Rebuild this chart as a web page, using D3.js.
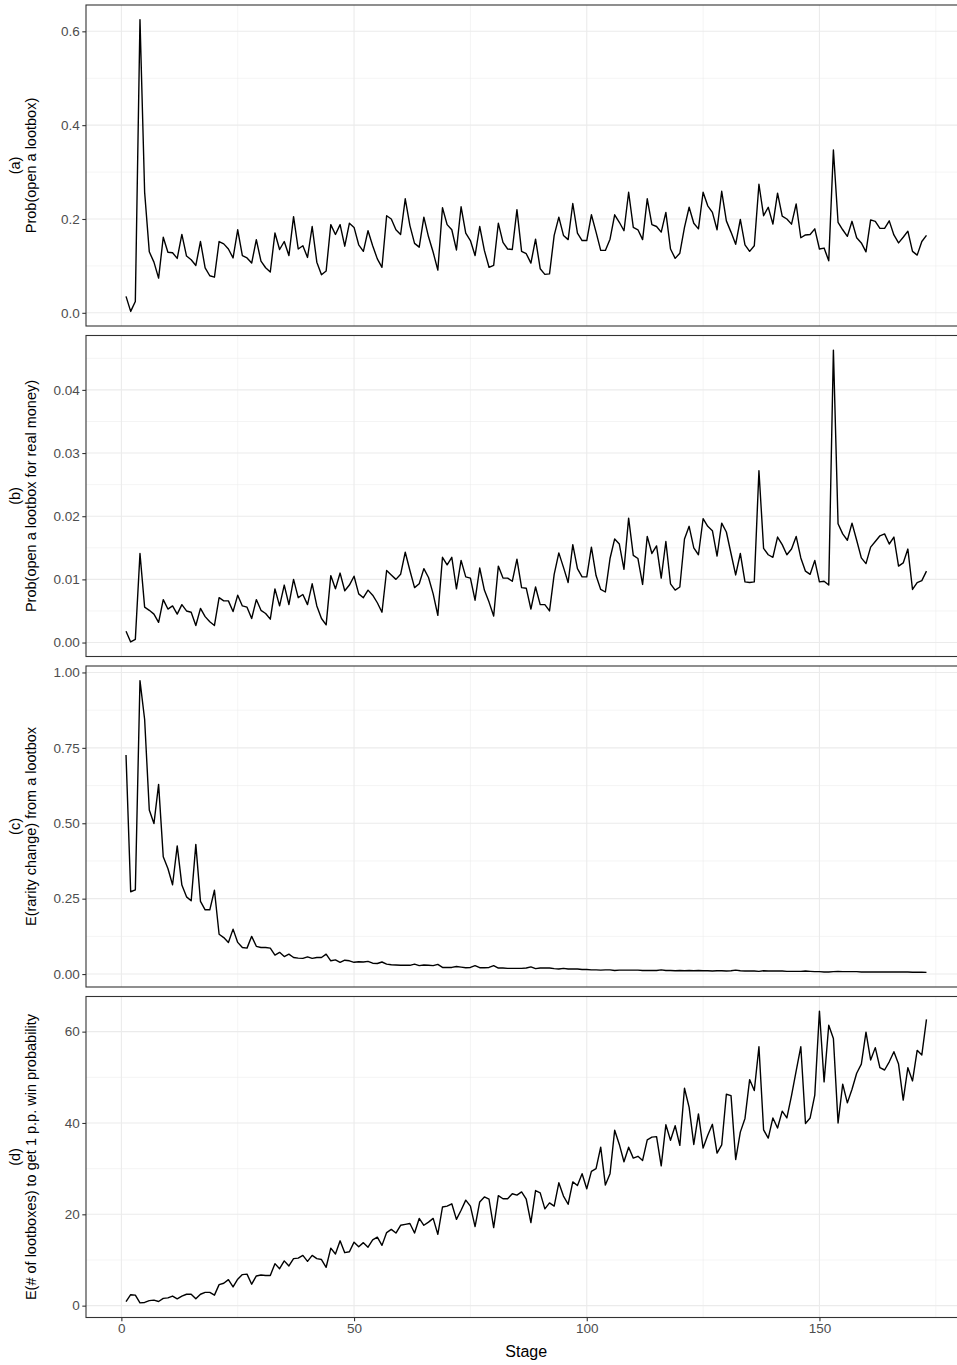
<!DOCTYPE html>
<html>
<head>
<meta charset="utf-8">
<script src="https://cdn.jsdelivr.net/npm/d3@7/dist/d3.min.js"></script>
<style>
  html, body { margin: 0; padding: 0; background: #ffffff; }
  svg { display: block; font-family: "Liberation Sans", Arial, Helvetica, sans-serif; }
</style>
</head>
<body>
<svg id="chart" width="957" height="1365"></svg>
<script>
// Stage numbers 1..173
const stages = d3.range(1, 174);

// (a) probability of opening a lootbox per stage
const probOpen = [
  0.035, 0.003, 0.024, 0.625, 0.257, 0.130, 0.108, 0.074, 0.161, 0.129,
  0.128, 0.116, 0.167, 0.121, 0.113, 0.101, 0.152, 0.096, 0.079, 0.076,
  0.152, 0.147, 0.136, 0.117, 0.177, 0.122, 0.117, 0.106, 0.156, 0.110,
  0.096, 0.087, 0.170, 0.135, 0.152, 0.122, 0.205, 0.136, 0.143, 0.118,
  0.184, 0.108, 0.081, 0.089, 0.188, 0.167, 0.188, 0.142, 0.191, 0.182,
  0.145, 0.131, 0.175, 0.143, 0.115, 0.097, 0.207, 0.200, 0.177, 0.167,
  0.243, 0.186, 0.148, 0.140, 0.204, 0.162, 0.129, 0.091, 0.224, 0.188,
  0.177, 0.134, 0.226, 0.170, 0.154, 0.122, 0.184, 0.133, 0.097, 0.101,
  0.191, 0.150, 0.136, 0.135, 0.220, 0.131, 0.126, 0.106, 0.157, 0.094,
  0.082, 0.083, 0.165, 0.204, 0.165, 0.156, 0.233, 0.170, 0.154, 0.154,
  0.209, 0.172, 0.133, 0.133, 0.157, 0.209, 0.193, 0.175, 0.257, 0.182,
  0.177, 0.156, 0.243, 0.188, 0.184, 0.172, 0.214, 0.136, 0.116, 0.127,
  0.182, 0.225, 0.191, 0.179, 0.257, 0.228, 0.214, 0.177, 0.259, 0.196,
  0.172, 0.146, 0.199, 0.145, 0.131, 0.143, 0.274, 0.207, 0.225, 0.189,
  0.255, 0.206, 0.200, 0.189, 0.232, 0.160, 0.166, 0.167, 0.179, 0.136,
  0.138, 0.111, 0.347, 0.193, 0.177, 0.163, 0.195, 0.160, 0.149, 0.130,
  0.198, 0.195, 0.180, 0.180, 0.196, 0.166, 0.149, 0.161, 0.174, 0.131,
  0.123, 0.152, 0.165
];

// (b) probability of opening a lootbox for real money
const probOpenPaid = [
  0.0018, 0.0001, 0.0005, 0.0141, 0.0056, 0.0051, 0.0045, 0.0032, 0.0068, 0.0053,
  0.0058, 0.0045, 0.0060, 0.0050, 0.0048, 0.0027, 0.0054, 0.0041, 0.0033, 0.0027,
  0.0071, 0.0066, 0.0066, 0.0049, 0.0075, 0.0058, 0.0056, 0.0038, 0.0068, 0.0051,
  0.0046, 0.0037, 0.0085, 0.0058, 0.0091, 0.0060, 0.0100, 0.0071, 0.0076, 0.0060,
  0.0093, 0.0058, 0.0038, 0.0028, 0.0106, 0.0085, 0.0110, 0.0082, 0.0091, 0.0105,
  0.0077, 0.0071, 0.0083, 0.0075, 0.0063, 0.0048, 0.0114, 0.0107, 0.0100, 0.0108,
  0.0143, 0.0114, 0.0087, 0.0093, 0.0117, 0.0103, 0.0077, 0.0043, 0.0135, 0.0123,
  0.0135, 0.0085, 0.0130, 0.0104, 0.0102, 0.0067, 0.0118, 0.0083, 0.0064, 0.0042,
  0.0121, 0.0102, 0.0102, 0.0097, 0.0132, 0.0087, 0.0086, 0.0053, 0.0088, 0.0060,
  0.0060, 0.0050, 0.0108, 0.0142, 0.0119, 0.0095, 0.0155, 0.0117, 0.0104, 0.0104,
  0.0151, 0.0106, 0.0084, 0.0080, 0.0133, 0.0164, 0.0156, 0.0116, 0.0197, 0.0138,
  0.0133, 0.0092, 0.0168, 0.0141, 0.0153, 0.0102, 0.0160, 0.0093, 0.0083, 0.0088,
  0.0164, 0.0184, 0.0150, 0.0139, 0.0196, 0.0184, 0.0177, 0.0137, 0.0189, 0.0175,
  0.0141, 0.0107, 0.0141, 0.0096, 0.0095, 0.0096, 0.0272, 0.0149, 0.0139, 0.0135,
  0.0167, 0.0155, 0.0139, 0.0148, 0.0168, 0.0134, 0.0113, 0.0108, 0.0130, 0.0096,
  0.0097, 0.0091, 0.0463, 0.0188, 0.0172, 0.0162, 0.0189, 0.0162, 0.0134, 0.0125,
  0.0151, 0.0160, 0.0169, 0.0172, 0.0156, 0.0167, 0.0121, 0.0126, 0.0148, 0.0084,
  0.0095, 0.0098, 0.0113
];

// (c) expected rarity change from a lootbox
const rarityChange = [
  0.726, 0.273, 0.279, 0.973, 0.844, 0.544, 0.499, 0.629, 0.389, 0.350,
  0.296, 0.425, 0.295, 0.256, 0.243, 0.430, 0.241, 0.213, 0.213, 0.278,
  0.132, 0.121, 0.105, 0.149, 0.105, 0.088, 0.086, 0.125, 0.092, 0.088,
  0.088, 0.086, 0.063, 0.072, 0.058, 0.066, 0.055, 0.053, 0.052, 0.057,
  0.052, 0.055, 0.055, 0.066, 0.044, 0.047, 0.039, 0.046, 0.044, 0.039,
  0.041, 0.040, 0.042, 0.036, 0.035, 0.040, 0.033, 0.031, 0.030, 0.029,
  0.029, 0.029, 0.033, 0.028, 0.030, 0.029, 0.028, 0.032, 0.022, 0.022,
  0.022, 0.025, 0.023, 0.021, 0.022, 0.028, 0.021, 0.021, 0.022, 0.028,
  0.020, 0.020, 0.019, 0.019, 0.019, 0.019, 0.020, 0.024, 0.018, 0.020,
  0.020, 0.020, 0.018, 0.017, 0.019, 0.017, 0.017, 0.017, 0.015, 0.015,
  0.014, 0.014, 0.013, 0.014, 0.014, 0.012, 0.013, 0.013, 0.013, 0.013,
  0.013, 0.012, 0.012, 0.012, 0.012, 0.014, 0.012, 0.012, 0.011, 0.012,
  0.011, 0.012, 0.011, 0.012, 0.011, 0.011, 0.010, 0.011, 0.011, 0.010,
  0.011, 0.013, 0.011, 0.010, 0.010, 0.010, 0.009, 0.011, 0.010, 0.010,
  0.010, 0.010, 0.009, 0.009, 0.009, 0.009, 0.010, 0.009, 0.008, 0.008,
  0.007, 0.007, 0.008, 0.009, 0.008, 0.008, 0.008, 0.008, 0.007, 0.007,
  0.007, 0.007, 0.007, 0.007, 0.007, 0.007, 0.007, 0.007, 0.007, 0.006,
  0.006, 0.006, 0.0055
];

// (d) expected number of lootboxes to gain 1 p.p. of win probability
const boxesPerPoint = [
  0.9, 2.4, 2.3, 0.6, 0.7, 1.1, 1.2, 0.9, 1.6, 1.7,
  2.1, 1.5, 2.1, 2.5, 2.5, 1.5, 2.5, 2.9, 2.9, 2.3,
  4.6, 4.9, 5.7, 4.1, 5.8, 6.8, 6.9, 4.7, 6.5, 6.7,
  6.6, 6.6, 9.2, 8.1, 9.8, 8.7, 10.3, 10.4, 11.0, 9.7,
  11.0, 10.3, 10.1, 8.4, 12.6, 11.3, 14.2, 11.6, 11.8, 13.9,
  12.9, 13.8, 12.8, 14.4, 15.0, 13.2, 16.0, 16.7, 15.9, 17.6,
  17.8, 18.0, 15.9, 19.1, 17.6, 18.3, 19.1, 15.6, 21.6, 21.8,
  22.3, 18.9, 20.9, 23.1, 21.8, 17.3, 22.7, 23.8, 23.3, 17.1,
  24.1, 23.4, 23.4, 24.5, 24.2, 24.9, 23.3, 18.2, 25.2, 24.7,
  21.2, 22.5, 21.8, 26.9, 24.0, 22.2, 27.1, 26.3, 28.9, 25.6,
  29.4, 30.0, 34.7, 26.4, 28.9, 38.4, 35.3, 31.5, 34.7, 32.3,
  32.7, 31.8, 36.3, 36.9, 37.0, 30.6, 39.6, 36.2, 39.4, 35.1,
  47.6, 43.4, 35.3, 42.0, 34.5, 37.3, 39.7, 33.4, 35.2, 46.3,
  46.0, 32.0, 38.0, 41.0, 49.5, 47.1, 56.7, 38.5, 36.7, 41.1,
  38.9, 42.6, 41.1, 46.0, 51.4, 56.7, 39.9, 41.1, 46.1, 64.5,
  49.0, 61.4, 58.5, 40.0, 48.5, 44.4, 47.4, 50.9, 52.9, 59.9,
  53.8, 56.5, 52.1, 51.6, 53.4, 55.6, 52.9, 45.0, 52.1, 49.2,
  55.9, 54.9, 62.7
];

// Axis breaks and labels
const xTicks = [0, 50, 100, 150];
const xTickLabels = ["0", "50", "100", "150"];
const yTicksA = [0, 0.2, 0.4, 0.6];
const yTickLabelsA = ["0.0", "0.2", "0.4", "0.6"];
const yTicksB = [0, 0.01, 0.02, 0.03, 0.04];
const yTickLabelsB = ["0.00", "0.01", "0.02", "0.03", "0.04"];
const yTicksC = [0, 0.25, 0.5, 0.75, 1.0];
const yTickLabelsC = ["0.00", "0.25", "0.50", "0.75", "1.00"];
const yTicksD = [0, 20, 40, 60];
const yTickLabelsD = ["0", "20", "40", "60"];

const panelTitles = [
  ["(a)", "Prob(open a lootbox)"],
  ["(b)", "Prob(open a lootbox for real money)"],
  ["(c)", "E(rarity change) from a lootbox"],
  ["(d)", "E(# of lootboxes) to get 1 p.p. win probability"]
];

// ---- layout ----
const svg = d3.select("#chart");
svg.append("rect").attr("width", 957).attr("height", 1365).attr("fill", "#ffffff");

const plotLeft = 86, plotRight = 966.5;
const panelTops = [5, 335.5, 666, 996.5];
const panelHeight = 321;
const gridColor = "#EBEBEB";
const borderColor = "#333333";
const textColor = "#4D4D4D";
const tickFont = "13.5px";
const titleFont = "14.5px";

// padded domain, 5% each side
function padded(ext) {
  const span = ext[1] - ext[0];
  return [ext[0] - span * 0.05, ext[1] + span * 0.05];
}

const x = d3.scaleLinear().domain(padded(d3.extent(stages))).range([plotLeft, plotRight]);
const xMajor = xTicks;
const xMinor = [25, 75, 125, 175];

const panels = [
  { values: probOpen, ticks: yTicksA, labels: yTickLabelsA },
  { values: probOpenPaid, ticks: yTicksB, labels: yTickLabelsB },
  { values: rarityChange, ticks: yTicksC, labels: yTickLabelsC },
  { values: boxesPerPoint, ticks: yTicksD, labels: yTickLabelsD }
];

const clip = svg.append("defs");

panels.forEach((p, i) => {
  const top = panelTops[i];
  const bottom = top + panelHeight;
  const y = d3.scaleLinear().domain(padded(d3.extent(p.values))).range([bottom, top]);
  const g = svg.append("g");

  clip.append("clipPath").attr("id", "clip" + i)
    .append("rect").attr("x", plotLeft).attr("y", top)
    .attr("width", plotRight - plotLeft).attr("height", panelHeight);

  const inner = g.append("g").attr("clip-path", `url(#clip${i})`);

  // minor y gridlines: midpoints between breaks
  const step = p.ticks[1] - p.ticks[0];
  const yMinor = [];
  for (let k = -1; k < p.ticks.length; k++) {
    const v = p.ticks[0] + step * (k + 0.5);
    const dom = y.domain();
    if (v >= dom[0] && v <= dom[1]) yMinor.push(v);
  }
  inner.selectAll(".ymin").data(yMinor).enter().append("line")
    .attr("x1", plotLeft).attr("x2", plotRight)
    .attr("y1", d => y(d)).attr("y2", d => y(d))
    .attr("stroke", gridColor).attr("stroke-width", 0.55);
  inner.selectAll(".xmin").data(xMinor).enter().append("line")
    .attr("x1", d => x(d)).attr("x2", d => x(d))
    .attr("y1", top).attr("y2", bottom)
    .attr("stroke", gridColor).attr("stroke-width", 0.55);
  inner.selectAll(".ymaj").data(p.ticks).enter().append("line")
    .attr("x1", plotLeft).attr("x2", plotRight)
    .attr("y1", d => y(d)).attr("y2", d => y(d))
    .attr("stroke", gridColor).attr("stroke-width", 1.1);
  inner.selectAll(".xmaj").data(xMajor).enter().append("line")
    .attr("x1", d => x(d)).attr("x2", d => x(d))
    .attr("y1", top).attr("y2", bottom)
    .attr("stroke", gridColor).attr("stroke-width", 1.1);

  // series line
  const line = d3.line().x((d, j) => x(stages[j])).y(d => y(d));
  inner.append("path").datum(p.values)
    .attr("d", line).attr("fill", "none")
    .attr("stroke", "#000000").attr("stroke-width", 1.4)
    .attr("stroke-linejoin", "round");

  // panel border
  g.append("rect").attr("x", plotLeft).attr("y", top)
    .attr("width", plotRight - plotLeft).attr("height", panelHeight)
    .attr("fill", "none").attr("stroke", borderColor).attr("stroke-width", 1.1);

  // y axis
  const yAxis = d3.axisLeft(y).tickValues(p.ticks)
    .tickFormat((d, j) => p.labels[j]).tickSize(3.7).tickPadding(2.5);
  const ya = g.append("g").attr("transform", `translate(${plotLeft},0)`).call(yAxis);
  ya.select(".domain").remove();
  ya.selectAll(".tick line").attr("stroke", borderColor).attr("stroke-width", 1.1);
  ya.selectAll(".tick text").attr("fill", textColor)
    .style("font-size", tickFont).style("font-family", "Liberation Sans, Arial, sans-serif");

  // y title, two lines
  const cy = (top + bottom) / 2;
  const t = panelTitles[i];
  g.append("text").attr("transform", `translate(20,${cy}) rotate(-90)`)
    .attr("text-anchor", "middle").style("font-size", titleFont).attr("fill", "#000")
    .text(t[0]);
  g.append("text").attr("transform", `translate(36,${cy}) rotate(-90)`)
    .attr("text-anchor", "middle").style("font-size", titleFont).attr("fill", "#000")
    .text(t[1]);

  // x axis on bottom panel only
  if (i === panels.length - 1) {
    const xAxis = d3.axisBottom(x).tickValues(xTicks)
      .tickFormat((d, j) => xTickLabels[j]).tickSize(3.7).tickPadding(2.5);
    const xa = g.append("g").attr("transform", `translate(0,${bottom})`).call(xAxis);
    xa.select(".domain").remove();
    xa.selectAll(".tick line").attr("stroke", borderColor).attr("stroke-width", 1.1);
    xa.selectAll(".tick text").attr("fill", textColor)
      .style("font-size", tickFont).style("font-family", "Liberation Sans, Arial, sans-serif");
    g.append("text").attr("x", (plotLeft + plotRight) / 2).attr("y", bottom + 39)
      .attr("text-anchor", "middle").style("font-size", "16px").attr("fill", "#000")
      .text("Stage");
  }
});
</script>
</body>
</html>
